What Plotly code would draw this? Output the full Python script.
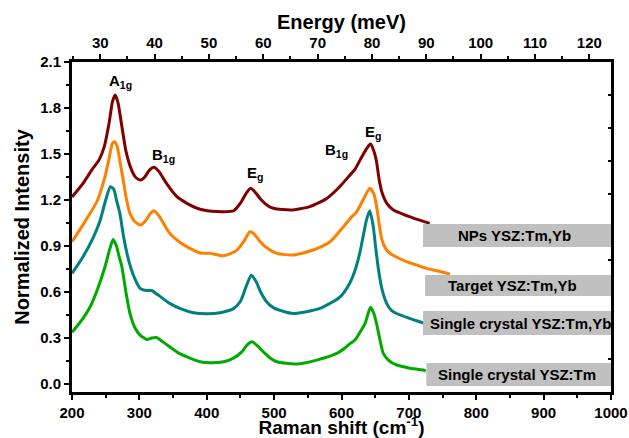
import plotly.graph_objects as go

# ---------------- data ----------------
nps_x = [200, 215, 230, 240, 248, 255, 260, 264, 268, 274, 280, 288, 295, 302, 308, 315, 322, 330, 340, 355,
         370, 390, 415, 440, 450, 458, 465, 472, 480, 490, 500, 525, 553, 578, 598, 612, 620, 630, 638, 643,
         648, 652, 656, 660, 667, 677, 690, 702, 715, 731]
nps_y = [1.22, 1.30, 1.40, 1.46, 1.55, 1.70, 1.84, 1.885, 1.84, 1.68, 1.52, 1.40, 1.345, 1.33, 1.35, 1.395, 1.413, 1.38, 1.31, 1.225,
         1.18, 1.14, 1.125, 1.13, 1.18, 1.24, 1.276, 1.25, 1.205, 1.165, 1.145, 1.135, 1.157, 1.21, 1.29, 1.36, 1.40, 1.48, 1.54, 1.565,
         1.52, 1.45, 1.33, 1.25, 1.18, 1.135, 1.11, 1.09, 1.07, 1.048]

tgt_x = [200, 215, 227, 238, 249, 255, 260, 263, 267, 272, 276, 281, 286, 293, 302, 310, 316, 322, 330, 345,
         360, 375, 390, 405, 425, 444, 455, 464, 470, 479, 490, 504, 528, 558, 583, 603, 615, 622, 632, 642,
         648, 652, 656, 660, 666, 672, 685, 697, 712, 726, 745, 761]
tgt_y = [0.928, 1.03, 1.113, 1.20, 1.352, 1.47, 1.57, 1.58, 1.55, 1.43, 1.33, 1.20, 1.113, 1.06, 1.037, 1.07, 1.11, 1.13, 1.09, 0.983,
         0.925, 0.885, 0.855, 0.852, 0.836, 0.87, 0.93, 0.993, 0.98, 0.93, 0.885, 0.852, 0.841, 0.874, 0.928, 1.026, 1.09, 1.12, 1.20, 1.276,
         1.24, 1.16, 1.04, 0.94, 0.88, 0.852, 0.82, 0.797, 0.775, 0.754, 0.735, 0.717]

sc1_x = [200, 215, 232, 242, 250, 257, 262, 266, 271, 277, 284, 292, 301, 310, 318, 328, 345, 362, 380, 400,
         420, 439, 450, 458, 466, 473, 480, 489, 500, 528, 568, 598, 612, 620, 627, 632, 637, 642, 647, 651,
         655, 660, 667, 674, 682, 700, 716, 722]
sc1_y = [0.722, 0.82, 0.96, 1.07, 1.20, 1.287, 1.27, 1.20, 1.113, 0.95, 0.808, 0.70, 0.624, 0.61, 0.61, 0.58, 0.526, 0.49, 0.465, 0.458,
         0.465, 0.49, 0.54, 0.63, 0.71, 0.67, 0.60, 0.535, 0.495, 0.46, 0.493, 0.569, 0.656, 0.74, 0.852, 0.96, 1.069, 1.13, 1.03, 0.88,
         0.743, 0.62, 0.526, 0.48, 0.46, 0.43, 0.406, 0.397]

sc2_x = [200, 215, 227, 238, 249, 256, 261, 266, 270, 274, 280, 286, 293, 301, 311, 318, 325, 335, 345, 357,
         370, 390, 405, 425, 439, 452, 460, 467, 475, 484, 494, 504, 533, 563, 593, 605, 613, 620, 625, 635,
         643, 648, 652, 657, 662, 670, 682, 700, 721, 725]
sc2_y = [0.337, 0.42, 0.504, 0.62, 0.765, 0.88, 0.943, 0.90, 0.83, 0.765, 0.60, 0.46, 0.37, 0.319, 0.291, 0.30, 0.304, 0.275, 0.243, 0.205,
         0.178, 0.145, 0.139, 0.145, 0.167, 0.21, 0.255, 0.275, 0.25, 0.21, 0.17, 0.145, 0.13, 0.156, 0.2, 0.235, 0.265, 0.287, 0.32, 0.395,
         0.5, 0.46, 0.395, 0.29, 0.20, 0.155, 0.124, 0.105, 0.091, 0.085]

series_names = ["NPs YSZ:Tm,Yb", "Target YSZ:Tm,Yb", "Single crystal YSZ:Tm,Yb", "Single crystal YSZ:Tm"]
series_colors = ["#800000", "#FF8000", "#008080", "#00AA00"]

# label boxes: (x0, y0, y1, text x)
box_x0 = [721, 724, 721, 726]
box_y0 = [0.893, 0.574, 0.319, -0.013]
box_y1 = [1.043, 0.711, 0.476, 0.137]
box_tx = [857, 854, 865, 861]

peak_labels = ["A<sub>1g</sub>", "B<sub>1g</sub>", "E<sub>g</sub>", "B<sub>1g</sub>", "E<sub>g</sub>"]
peak_x = [272, 336, 471, 593, 647]
peak_y = [1.97, 1.49, 1.376, 1.526, 1.643]

CM_PER_MEV = 8.0655
x_range = [200, 1000]
y_range = [-0.052, 2.1]

FONT = "Liberation Sans, Arial, sans-serif"

fig = go.Figure()
for xs, ys, name, col in zip([nps_x, tgt_x, sc1_x, sc2_x], [nps_y, tgt_y, sc1_y, sc2_y], series_names, series_colors):
    fig.add_trace(go.Scatter(x=xs, y=ys, mode="lines", name=name,
                             line=dict(color=col, width=3, shape="spline", smoothing=0.6),
                             showlegend=False, hoverinfo="skip"))

# dummy traces so overlaying axes render
fig.add_trace(go.Scatter(x=[None], y=[None], xaxis="x2", yaxis="y", showlegend=False, hoverinfo="skip"))
fig.add_trace(go.Scatter(x=[None], y=[None], xaxis="x", yaxis="y2", showlegend=False, hoverinfo="skip"))

shapes = []
annotations = []
for x0, y0, y1, tx, txt in zip(box_x0, box_y0, box_y1, box_tx, series_names):
    shapes.append(dict(type="rect", xref="x", yref="y", x0=x0, x1=1000, y0=y0, y1=y1,
                       fillcolor="#C0C0C0", line=dict(width=0), layer="above"))
    annotations.append(dict(x=tx, y=(y0 + y1) / 2, xref="x", yref="y", text=txt, showarrow=False,
                            font=dict(family=FONT, size=15, color="black", weight="bold"),
                            xanchor="center", yanchor="middle"))
for txt, px, py in zip(peak_labels, peak_x, peak_y):
    annotations.append(dict(x=px, y=py, xref="x", yref="y", text=txt, showarrow=False,
                            font=dict(family=FONT, size=15, color="black", weight="bold"),
                            xanchor="center", yanchor="middle"))

tickfont = dict(family=FONT, size=15, color="black", weight="bold")
titlefont = dict(family=FONT, size=20, color="black", weight="bold")

fig.update_layout(
    width=629, height=438,
    margin=dict(l=72, r=18, t=62, b=46),
    paper_bgcolor="white", plot_bgcolor="white",
    shapes=shapes, annotations=annotations,
    xaxis=dict(range=x_range, showgrid=False, zeroline=False, showline=True, linecolor="black", linewidth=3,
               ticks="outside", ticklen=5, tickwidth=2, tickcolor="black", dtick=100, tick0=0,
               minor=dict(ticks="outside", ticklen=3, tickwidth=2, dtick=50, tickcolor="black"),
               tickfont=tickfont, automargin=False,
               title=dict(text="Raman shift (cm<sup>-1</sup>)", font=dict(family=FONT, size=19, color="black", weight="bold"), standoff=0)),
    xaxis2=dict(overlaying="x", side="top", range=[x_range[0] / CM_PER_MEV, x_range[1] / CM_PER_MEV],
                showgrid=False, zeroline=False, showline=True, linecolor="black", linewidth=3,
                ticks="outside", ticklen=5, tickwidth=2, tickcolor="black", dtick=10, tick0=0,
                minor=dict(ticks="outside", ticklen=3, tickwidth=2, dtick=5, tickcolor="black"),
                tickfont=tickfont, automargin=False,
                title=dict(text="Energy (meV)", font=titlefont, standoff=0)),
    yaxis=dict(range=y_range, showgrid=False, zeroline=False, showline=True, linecolor="black", linewidth=3,
               ticks="outside", ticklen=5, tickwidth=2, tickcolor="black", dtick=0.3, tick0=0,
               tickformat=".1f", automargin=False,
               minor=dict(ticks="outside", ticklen=3, tickwidth=2, dtick=0.15, tickcolor="black"),
               tickfont=tickfont,
               title=dict(text="Normalized Intensity", font=titlefont, standoff=6)),
    yaxis2=dict(overlaying="y", side="right", range=[0, 10], showgrid=False, zeroline=False,
                showline=True, linecolor="black", linewidth=3, ticks="inside", ticklen=3, tickwidth=2,
                tickcolor="black", dtick=1, showticklabels=False, automargin=False),
)

fig.write_html("out.html")
